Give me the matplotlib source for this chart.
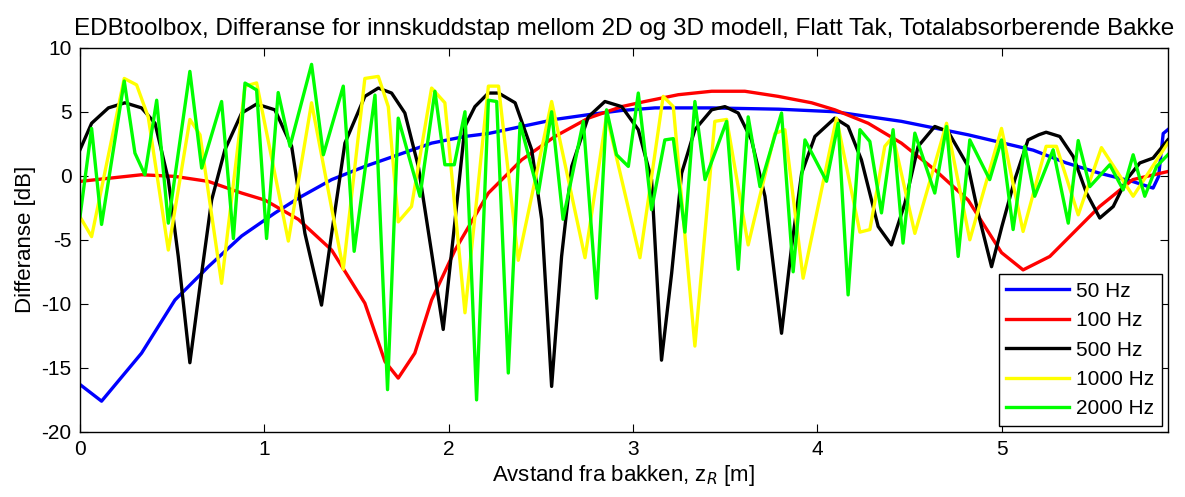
import numpy as np
import matplotlib
matplotlib.use("Agg")
import matplotlib.pyplot as plt

plt.rcParams['font.family'] = ['Liberation Sans', 'DejaVu Sans']
plt.rcParams['axes.unicode_minus'] = False

# avstand [m] og differanse [dB]
x_50 = [0, 0.117, 0.334, 0.515, 0.696, 0.877, 1.058, 1.184, 1.365, 1.545, 1.726, 1.907, 2.088,
        2.215, 2.396, 2.576, 2.757, 2.938, 3.119, 3.42, 3.79, 4.094, 4.455, 4.817, 5.17, 5.35,
        5.53, 5.71, 5.82, 5.85, 5.875, 5.9]
y_50 = [-16.3, -17.6, -13.85, -9.7, -7.1, -4.7, -2.9, -1.75, -0.3, 0.73, 1.64, 2.55, 3.07,
        3.3, 3.85, 4.4, 4.77, 5.1, 5.3, 5.3, 5.2, 5.0, 4.25, 3.2, 2.0, 1.0,
        0.2, -0.45, -0.96, -0.05, 3.3, 3.6]

x_100 = [0, 0.153, 0.334, 0.515, 0.696, 0.877, 1.003, 1.184, 1.365, 1.545, 1.654, 1.726, 1.816,
         1.907, 2.034, 2.215, 2.396, 2.576, 2.757, 2.938, 3.064, 3.245, 3.426, 3.606, 3.787,
         3.968, 4.094, 4.275, 4.455, 4.636, 4.817, 4.998, 5.115, 5.26, 5.35, 5.53, 5.71, 5.9]
y_100 = [-0.44, -0.2, 0.08, -0.05, -0.44, -1.35, -1.9, -3.4, -5.8, -9.95, -14.5, -15.8, -13.85,
         -9.7, -5.8, -1.35, 1.25, 3.07, 4.5, 5.4, 5.8, 6.33, 6.6, 6.6, 6.2,
         5.7, 5.15, 4.1, 2.55, 0.47, -1.9, -6.0, -7.35, -6.3, -5.0, -2.4, -0.3, 0.33]

x_500 = [0, 0.063, 0.154, 0.244, 0.334, 0.407, 0.479, 0.533, 0.596, 0.66, 0.714, 0.786, 0.877,
         0.958, 1.057, 1.148, 1.22, 1.31, 1.365, 1.437, 1.545, 1.618, 1.69, 1.762, 1.835,
         1.907, 1.97, 2.034, 2.088, 2.142, 2.215, 2.27, 2.36, 2.45, 2.504, 2.558, 2.612,
         2.667, 2.757, 2.847, 2.938, 3.028, 3.1, 3.154, 3.209, 3.263, 3.335, 3.426, 3.498,
         3.57, 3.642, 3.715, 3.805, 3.86, 3.914, 3.986, 4.094, 4.166, 4.238, 4.329, 4.401,
         4.474, 4.546, 4.636, 4.708, 4.817, 4.871, 4.944, 5.0, 5.07, 5.142, 5.2, 5.24,
         5.314, 5.387, 5.459, 5.531, 5.604, 5.676, 5.748, 5.82, 5.9]
y_500 = [2.03, 4.1, 5.3, 5.7, 5.3, 4.1, -0.3, -6.3, -14.6, -7.6, -1.9, 2.03, 4.9,
         5.6, 5.15, 2.3, -4.5, -10.1, -4.5, 2.55, 6.2, 6.85, 6.46, 4.9, 0.73,
         -6.0, -12.0, -3.5, 3.85, 5.4, 6.46, 6.46, 5.7, 2.03, -3.4, -16.45, -6.3,
         0.73, 4.6, 5.8, 5.4, 3.6, -0.3, -14.4, -7.6, 0.2, 3.6, 5.15, 5.4,
         4.9, 2.8, -1.6, -12.3, -5.5, 0.2, 3.07, 4.5, 3.85, 1.25, -3.96, -5.4,
         -2.15, 2.3, 3.85, 3.46, 0.73, -2.9, -7.1, -3.96, -0.3, 2.8, 3.2, 3.4,
         3.07, 1.5, -1.35, -3.3, -2.4, -0.3, 1.0, 1.38, 2.8]

x_1000 = [0, 0.063, 0.24, 0.307, 0.37, 0.479, 0.596, 0.651, 0.768, 0.895, 0.958, 1.13, 1.256,
          1.428, 1.545, 1.618, 1.672, 1.726, 1.798, 1.907, 1.979, 2.088, 2.215, 2.27, 2.377,
          2.558, 2.739, 2.856, 3.037, 3.163, 3.218, 3.335, 3.443, 3.507, 3.624, 3.769, 3.823,
          3.922, 4.103, 4.23, 4.284, 4.365, 4.41, 4.528, 4.7, 4.826, 4.998, 5.115, 5.24,
          5.296, 5.414, 5.54, 5.712, 5.9]
y_1000 = [-3.2, -4.75, 7.6, 7.1, 4.6, -5.8, 4.4, 3.2, -8.4, 7.0, 7.25, -5.1, 5.7,
          -7.3, 7.6, 7.76, 5.4, -3.6, -2.4, 6.85, 5.7, -10.7, 7.0, 7.0, -6.6,
          5.8, -6.4, 4.75, -6.4, 6.2, 5.4, -13.3, 4.25, 4.4, -5.4, 3.3, 3.6,
          -8.0, 4.5, -4.4, -4.2, 2.3, 3.07, -4.5, 4.1, -5.0, 3.7, -4.35, 2.3,
          2.3, -3.05, 2.2, -1.6, 2.55]

x_2000 = [0, 0.063, 0.117, 0.24, 0.298, 0.352, 0.416, 0.479, 0.596, 0.66, 0.768, 0.832, 0.895,
          0.958, 1.012, 1.075, 1.139, 1.256, 1.32, 1.428, 1.487, 1.6, 1.668, 1.726, 1.844,
          1.925, 1.979, 2.03, 2.088, 2.151, 2.215, 2.26, 2.323, 2.387, 2.486, 2.558, 2.62,
          2.73, 2.802, 2.856, 2.91, 2.974, 3.028, 3.1, 3.172, 3.218, 3.281, 3.335, 3.39,
          3.507, 3.57, 3.624, 3.688, 3.805, 3.868, 3.932, 4.049, 4.112, 4.166, 4.23, 4.284,
          4.347, 4.41, 4.464, 4.528, 4.636, 4.7, 4.763, 4.826, 4.934, 4.998, 5.061, 5.124,
          5.178, 5.278, 5.36, 5.414, 5.477, 5.585, 5.658, 5.712, 5.775, 5.839, 5.9]
y_2000 = [-3.2, 3.7, -3.8, 7.4, 1.77, 0.08, 5.9, -3.7, 8.15, 0.6, 5.8, -4.9, 7.24,
          6.7, -4.9, 6.5, 2.3, 8.7, 1.64, 7.0, -5.9, 6.3, -16.7, 4.5, -1.6,
          6.6, 0.86, 0.86, 5.0, -17.5, 5.9, 5.8, -15.4, 4.1, -1.35, 5.0, -3.4,
          4.25, -9.56, 5.15, 1.64, 0.73, 6.46, -2.65, 2.8, 2.9, -4.4, 5.8, -0.3,
          4.25, -7.3, 4.6, -0.85, 4.9, -7.5, 2.8, -0.43, 4.1, -9.3, 3.6, 2.68,
          -2.9, 3.6, -5.26, 3.33, -1.35, 3.85, -6.3, 2.8, -0.3, 2.8, -4.2, 2.3,
          -1.6, 2.03, -3.7, 2.75, -0.85, 0.86, -1.1, 1.64, -1.6, 0.73, 1.64]

serier = [(x_50, y_50, '50 Hz', (0, 0, 1)),
          (x_100, y_100, '100 Hz', (1, 0, 0)),
          (x_500, y_500, '500 Hz', (0, 0, 0)),
          (x_1000, y_1000, '1000 Hz', (1, 1, 0)),
          (x_2000, y_2000, '2000 Hz', (0, 1, 0))]

fig = plt.figure(figsize=(11.85, 4.97), dpi=100)
ax = fig.add_axes([0.0675, 0.131, 0.918, 0.773])

for xs, ys, navn, farge in serier:
    ax.plot(xs, ys, color=farge, lw=2.4, label=navn)

ax.set_xlim(0, 5.9)
ax.set_ylim(-20, 10)
ax.set_xticks([0, 1, 2, 3, 4, 5])
ax.set_yticks([-20, -15, -10, -5, 0, 5, 10])
ax.tick_params(direction='in', top=True, right=True, labelsize=15, length=6, pad=6)
for s in ax.spines.values():
    s.set_linewidth(1)

ax.set_title('EDBtoolbox, Differanse for innskuddstap mellom 2D og 3D modell, Flatt Tak, Totalabsorberende Bakke',
             fontsize=17.5, pad=9)
ax.set_xlabel('Avstand fra bakken, z$_R$ [m]', fontsize=16, labelpad=3)
ax.set_ylabel('Differanse [dB]', fontsize=16, labelpad=4)

leg = ax.legend(loc='lower right', fontsize=15, fancybox=False, edgecolor='black',
                framealpha=1, handlelength=3.0, handletextpad=0.35, borderaxespad=0.3,
                labelspacing=0.5, borderpad=0.35)
leg.get_frame().set_linewidth(1)

fig.savefig('out.png', dpi=100)
